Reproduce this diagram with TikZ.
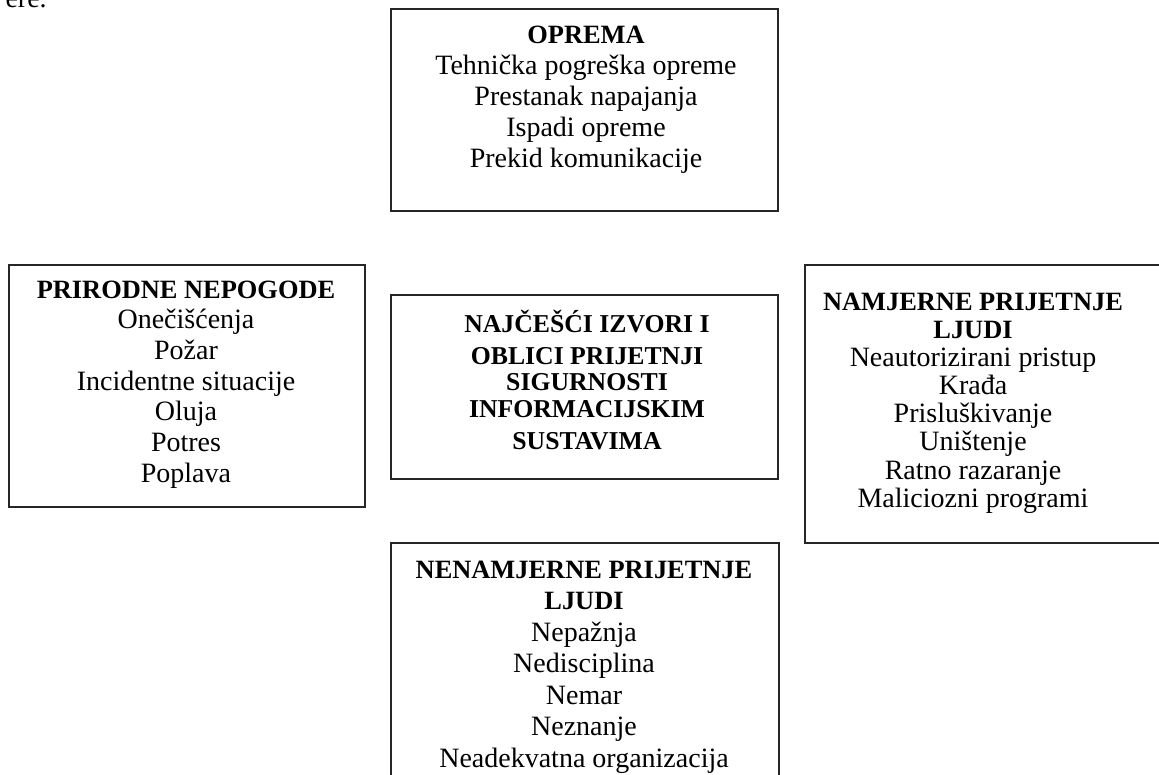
\documentclass[tikz,border=0pt]{standalone}
\usepackage{fontspec}
\setmainfont{Liberation Serif}
\newcommand{\ttlpart}[1]{{\fontsize{19.8}{23}\selectfont\bfseries #1}}
\begin{document}
\begin{tikzpicture}[x=0.75pt,y=-0.75pt,
  box/.style={draw=black!85, line width=1.1pt, inner sep=0pt, rectangle},
  txt/.style={inner sep=0pt, align=center, anchor=north},
  fs/.style={font=\fontsize{21}{#1}\selectfont}]
\useasboundingbox (0,0) rectangle (1159,774);
\clip (0,0) rectangle (1159,774);
% boxes
\node[box, minimum width=290.25pt, minimum height=151.5pt] (opr) at (584.5,110) {};
\node[box, minimum width=267pt, minimum height=181.5pt] (prir) at (187,386) {};
\node[box, minimum width=290.25pt, minimum height=138pt] (cent) at (584.5,387) {};
\node[box, minimum width=285pt, minimum height=208.5pt] (namj) at (995,404) {};
\node[box, minimum width=291pt, minimum height=195pt] (nenam) at (585,673) {};
% fragment of text above the picture
\node[inner sep=0pt, anchor=base east, fs=23] (frag) at (47,8) {ere.};
% texts
\node[txt, fs=23.25] (oprt) at (586,19) {\rule{0pt}{18pt}\ttlpart{OPREMA}\\Tehnička pogreška opreme\\Prestanak napajanja\\Ispadi opreme\\Prekid komunikacije};
\node[txt, fs=23] (prirt) at (186,274) {\rule{0pt}{18pt}\ttlpart{PRIRODNE NEPOGODE}\\Onečišćenja\\Požar\\Incidentne situacije\\Oluja\\Potres\\Poplava};
\node[txt, font=\bfseries\fontsize{19.3}{19.5}\selectfont] (centt) at (587,308) {\rule{0pt}{18pt}NAJČEŠĆI IZVORI I\\[4.5pt]OBLICI PRIJETNJI\\SIGURNOSTI\\[0.75pt]INFORMACIJSKIM\\[4.5pt]SUSTAVIMA};
\node[txt, fs=21.1] (namjt) at (973,286) {\rule{0pt}{18pt}\ttlpart{NAMJERNE PRIJETNJE}\\\ttlpart{LJUDI}\\Neautorizirani pristup\\Krađa\\Prisluškivanje\\Uništenje\\Ratno razaranje\\Maliciozni programi};
\node[txt, fs=23.6] (nenamt) at (584,554) {\rule{0pt}{18pt}\ttlpart{NENAMJERNE PRIJETNJE}\\\ttlpart{LJUDI}\\Nepažnja\\Nedisciplina\\Nemar\\Neznanje\\Neadekvatna organizacija};
\end{tikzpicture}
\end{document}
